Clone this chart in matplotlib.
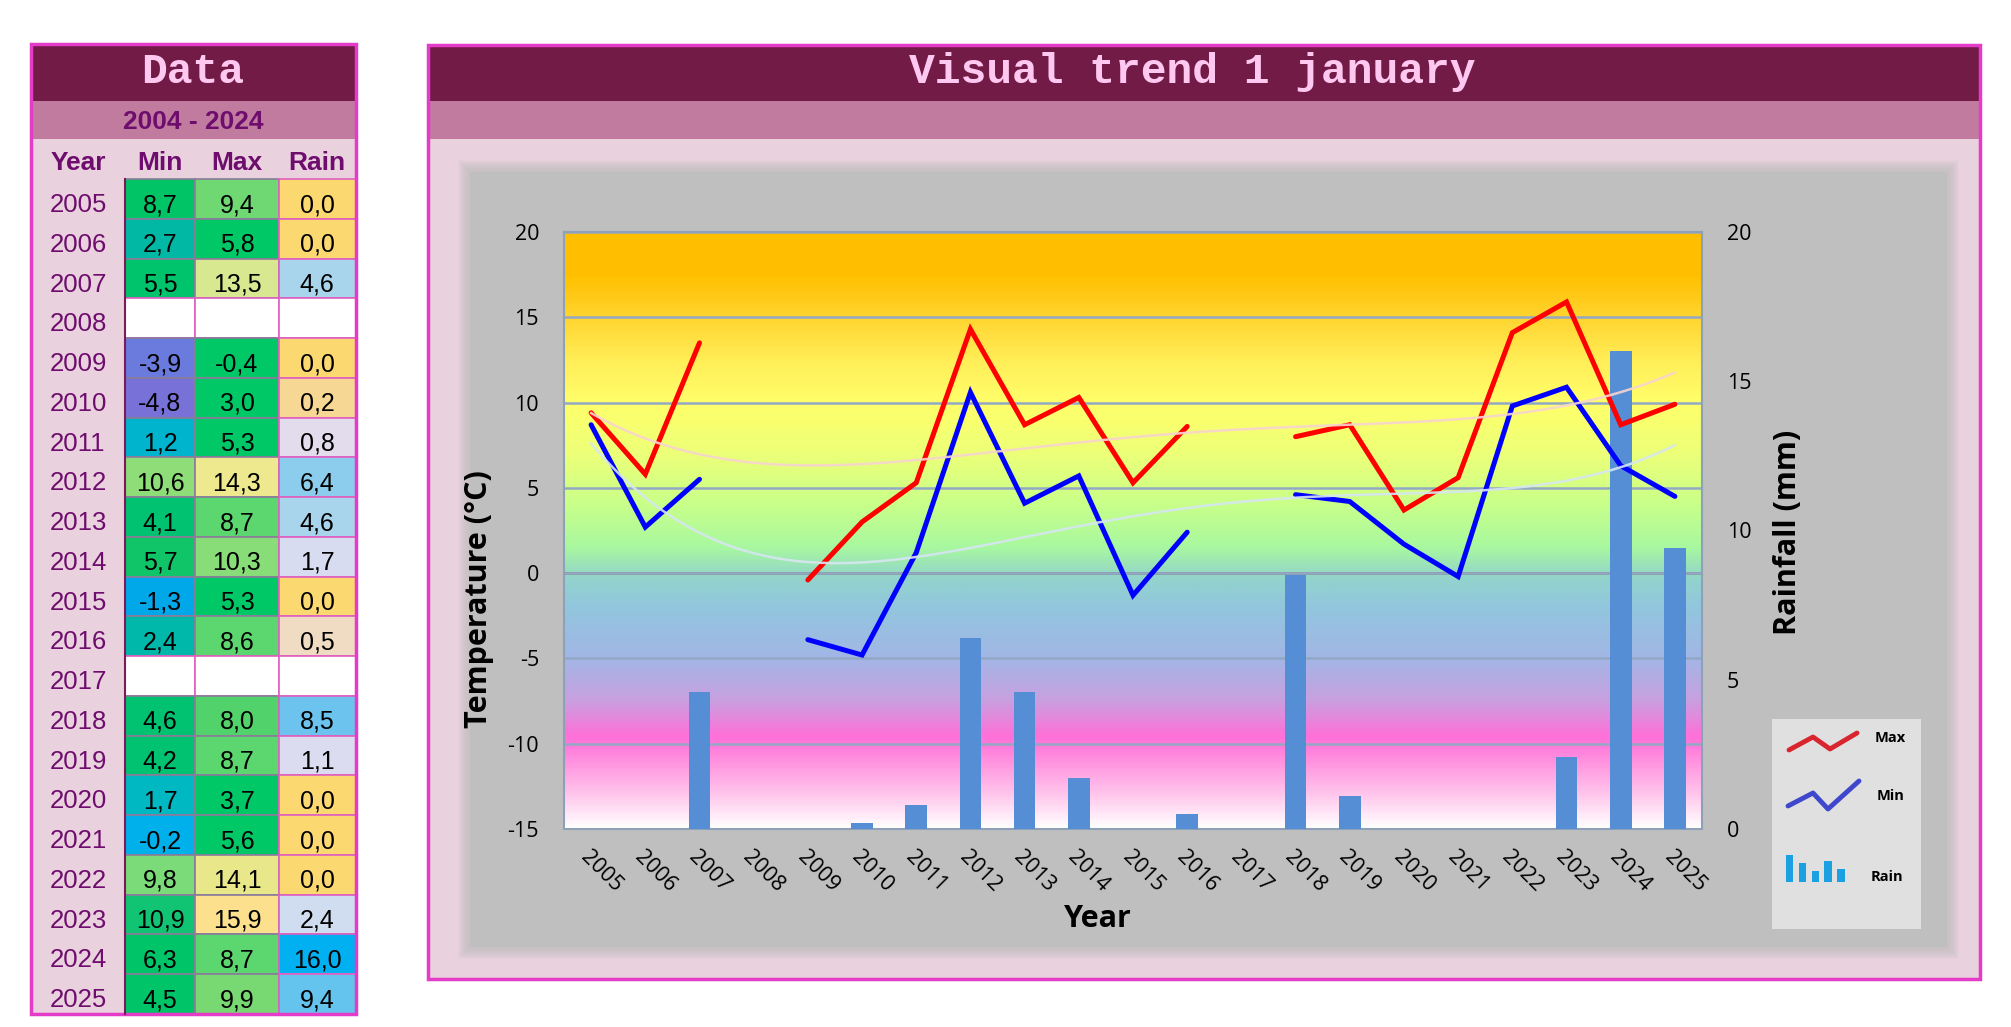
import numpy as np
import matplotlib
matplotlib.use("Agg")
import matplotlib.pyplot as plt
from matplotlib.patches import Rectangle
from matplotlib.colors import LinearSegmentedColormap

plt.rcParams['axes.unicode_minus'] = False

# data (1 january, 2005-2025; 2008 and 2017 missing)
years = [2005, 2006, 2007, 2008, 2009, 2010, 2011, 2012, 2013, 2014, 2015,
         2016, 2017, 2018, 2019, 2020, 2021, 2022, 2023, 2024, 2025]
t_min = [8.7, 2.7, 5.5, None, -3.9, -4.8, 1.2, 10.6, 4.1, 5.7, -1.3,
         2.4, None, 4.6, 4.2, 1.7, -0.2, 9.8, 10.9, 6.3, 4.5]
t_max = [9.4, 5.8, 13.5, None, -0.4, 3.0, 5.3, 14.3, 8.7, 10.3, 5.3,
         8.6, None, 8.0, 8.7, 3.7, 5.6, 14.1, 15.9, 8.7, 9.9]
rain = [0.0, 0.0, 4.6, None, 0.0, 0.2, 0.8, 6.4, 4.6, 1.7, 0.0,
        0.5, None, 8.5, 1.1, 0.0, 0.0, 0.0, 2.4, 16.0, 9.4]

# cell fill colours of the table (conditional formatting look)
min_colors = ['#00C466', '#00B8A4', '#00C46C', None, '#6A7BDD', '#7872D8', '#00B4CE',
              '#8EDD78', '#00C270', '#10C468', '#00A8EA', '#00B8AA', None, '#00C270',
              '#00C270', '#00B8C2', '#00B0EA', '#7ADB78', '#10C474', '#00C468', '#00C468']
max_colors = ['#70D872', '#00C866', '#D8E890', None, '#00C866', '#00C866', '#00C866',
              '#EEE88E', '#5CD66E', '#88DD78', '#00C866', '#5CD66E', None, '#52D26A',
              '#5CD66E', '#00C866', '#00C866', '#E8E88A', '#FCE08E', '#5CD66E', '#78D872']
rain_colors = ['#FCD870', '#FCD870', '#A8D4EC', None, '#FCD870', '#F6D894', '#E2DCEC',
               '#8CCCEC', '#A8D4EC', '#D8DCF0', '#FCD870', '#F0DCC2', None, '#6CC4EE',
               '#DCDCF0', '#FCD870', '#FCD870', '#FCD870', '#D0DCF0', '#00B0F0', '#64C4EE']

W, H = 2011, 1027
MONO = 'Liberation Mono'
SANS = 'Liberation Sans'
CH = 'Open Sans'
PURPLE = '#6E0D6E'
MAGENTA = '#E43CC8'

fig = plt.figure(figsize=(W / 100, H / 100), dpi=100)
fig.patch.set_facecolor('white')
bg = fig.add_axes([0, 0, 1, 1])
bg.set_xlim(0, W)
bg.set_ylim(H, 0)
bg.axis('off')


def box(x0, y0, x1, y1, **kw):
    bg.add_patch(Rectangle((x0, y0), x1 - x0, y1 - y0, **kw))


def fmt(v):
    return f"{v:.1f}".replace('.', ',')


# ---------- data table ----------
box(31, 44, 356, 1014, fc='#E9D1DD', ec='none')
box(31, 44, 356, 101, fc='#721B47', ec='none')
box(31, 101, 356, 139, fc='#C17B9F', ec='none')
bg.text(193, 83, 'Data', family=MONO, weight='bold', size=31, color='#FFC8F0',
        ha='center', va='baseline')
bg.text(193, 129, '2004 - 2024', family=SANS, weight='bold', size=19, color=PURPLE,
        ha='center', va='baseline')
col_x = [(31, 125), (125, 195), (195, 279), (279, 356)]
col_c = [78, 160, 237, 317]
for name, cx in zip(['Year', 'Min', 'Max', 'Rain'], col_c):
    bg.text(cx, 170, name, family=SANS, weight='bold', size=19, color=PURPLE,
            ha='center', va='baseline')

row_h = (1014 - 179) / len(years)
for i, yr in enumerate(years):
    y0 = 179 + i * row_h
    bg.text(col_c[0], y0 + 33, str(yr), family=SANS, size=18.5, color=PURPLE,
            ha='center', va='baseline')
    vals = [t_min[i], t_max[i], rain[i]]
    cols = [min_colors[i], max_colors[i], rain_colors[i]]
    for j, (v, c) in enumerate(zip(vals, cols)):
        x0, x1 = col_x[j + 1]
        ec = '#E060C0' if (j == 2 or v is None) else '#8A7C9A'
        box(x0, y0, x1, y0 + row_h, fc=c if c else 'white', ec=ec, lw=1.2)
        if v is not None:
            bg.text(col_c[j + 1], y0 + 33, fmt(v), family=SANS, size=18, color='black',
                    ha='center', va='baseline')
bg.plot([125, 125], [179, 1014], color='#7A1A5A', lw=1.5)
box(31, 44, 356, 1014, fill=False, ec=MAGENTA, lw=2.5)

# ---------- chart panel ----------
box(428, 45, 1980, 979, fc='#E9D1DD', ec='none')
box(428, 45, 1980, 101, fc='#721B47', ec='none')
box(428, 101, 1980, 139, fc='#C17B9F', ec='none')
for k in range(12, 0, -1):
    box(470 - k, 172 - k, 1947 + k, 947 + k, fc='#BDBDBD', ec='none', alpha=0.09)
box(470, 172, 1947, 947, fc='#BFBFBF', ec='none')
box(428, 45, 1980, 979, fill=False, ec=MAGENTA, lw=2.5)
bg.text(1192, 83, 'Visual trend 1 january', family=MONO, weight='bold', size=31,
        color='#FFC8F0', ha='center', va='baseline')

# legend box (picture-style legend)
box(1772, 719, 1921, 929, fc='#E0E0E0', ec='none')
bg.plot([1789, 1813, 1830, 1857], [750, 737, 749, 733], color='#D9262E', lw=3.5,
        solid_capstyle='round')
bg.plot([1788, 1813, 1828, 1859], [806, 793, 809, 781], color='#3F48CC', lw=3.5,
        solid_capstyle='round')
for i, top in enumerate([855, 863, 871, 861, 869]):
    bx = 1786 + i * 12.8
    box(bx, top, bx + 7.5, 882, fc='#1BA1E2', ec='none')
bg.text(1875, 738, 'Max', family=CH, weight='bold', size=10.5, va='center')
bg.text(1877, 796, 'Min', family=CH, weight='bold', size=10.5, va='center')
bg.text(1871, 877, 'Rain', family=CH, weight='bold', size=10.5, va='center')

# ---------- plot ----------
x = np.arange(len(years))
mn = np.array([np.nan if v is None else v for v in t_min])
mx = np.array([np.nan if v is None else v for v in t_max])
rn = np.array([np.nan if v is None else v for v in rain])

ax_t = fig.add_axes([564 / W, 1 - 829 / H, (1702 - 564) / W, (829 - 232) / H])
ax_t.set_xlim(-0.5, len(years) - 0.5)
ax_t.set_ylim(-15, 20)

stops = [(-15, '#FFFFFF'), (-13, '#FFC4EC'), (-10.5, '#FF82DC'), (-9.6, '#FF70D8'),
         (-7.5, '#C8A0E0'), (-5, '#A2B6E6'), (-2, '#92C6DE'), (-0.3, '#92D4CC'),
         (1.5, '#A8F8A0'), (4, '#C8FF8A'), (7, '#ECFF78'), (10, '#FFFF6A'),
         (12.5, '#FFEE58'), (15, '#FFD530'), (17.5, '#FFC000'), (20, '#FFBF00')]
cmap = LinearSegmentedColormap.from_list(
    'band', [((t + 15) / 35, c) for t, c in stops])
ax_t.imshow(np.linspace(-15, 20, 600).reshape(-1, 1), extent=[-0.5, len(years) - 0.5, -15, 20],
            origin='lower', aspect='auto', cmap=cmap, vmin=-15, vmax=20, zorder=0)
ax_t.set_yticks(range(-15, 21, 5))
ax_t.yaxis.grid(True, color='#92A8C4', lw=1.8, zorder=1)
ax_t.axhline(0, color='#7F7F7F', lw=2, zorder=1)
ax_t.set_xticks(x)
ax_t.set_xticklabels([str(y) for y in years], rotation=-45, ha='left', va='top',
                     rotation_mode='anchor', family=CH, fontsize=15.5)
ax_t.tick_params(axis='x', length=0, pad=13)
ax_t.tick_params(axis='y', length=0, pad=18, labelsize=15.5)
for lab in ax_t.get_yticklabels():
    lab.set_family(CH)
for sp in ax_t.spines.values():
    sp.set_color('#8FA1B6')
    sp.set_linewidth(1.5)

ax_r = ax_t.twinx()
ax_r.set_ylim(0, 20)
ax_r.bar(x, np.nan_to_num(rn), width=0.4, color='#558ED5', zorder=2)
ax_r.set_yticks(range(0, 21, 5))
ax_r.tick_params(axis='y', length=0, pad=18, labelsize=15.5)
for lab in ax_r.get_yticklabels():
    lab.set_family(CH)
for sp in ax_r.spines.values():
    sp.set_visible(False)

ax_l = ax_t.twinx()
ax_l.set_ylim(-15, 20)
ax_l.set_yticks([])
for sp in ax_l.spines.values():
    sp.set_visible(False)
ax_l.plot(x, mn, color='#0000FF', lw=3.6, solid_joinstyle='miter', solid_capstyle='round')
ax_l.plot(x, mx, color='#FF0000', lw=3.6, solid_joinstyle='miter', solid_capstyle='round')

# polynomial trend lines (order 4, like the spreadsheet)
xs = np.linspace(0, len(years) - 1, 300)
for s, col in [(mx, '#F8D4D0'), (mn, '#D6E6F2')]:
    ok = ~np.isnan(s)
    coef = np.polyfit(x[ok], s[ok], 4)
    ax_l.plot(xs, np.polyval(coef, xs), color=col, lw=1.8, alpha=0.9)

fig.text(479 / W, 1 - 599 / H, 'Temperature (°C)', family=CH, weight='bold', size=22,
         rotation=90, ha='center', va='center')
fig.text(1788 / W, 1 - 532 / H, 'Rainfall (mm)', family=CH, weight='bold', size=22,
         rotation=90, ha='center', va='center')
fig.text(1098 / W, 1 - 919 / H, 'Year', family=CH, weight='bold', size=22,
         ha='center', va='center')

fig.savefig('out.png', dpi=100)
